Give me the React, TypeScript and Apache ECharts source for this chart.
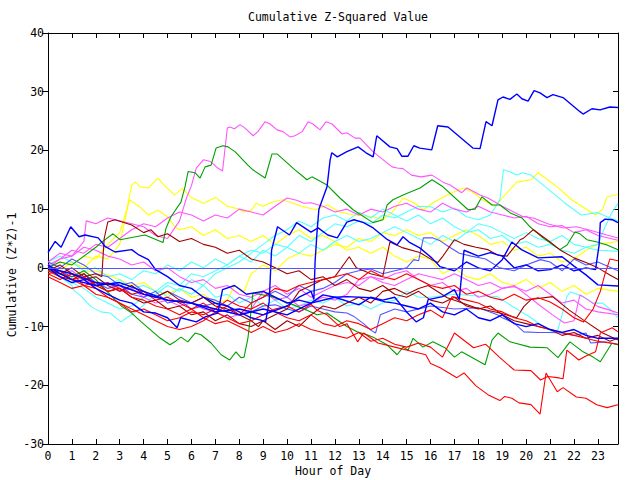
import React, { useEffect, useRef } from "react";
import * as echarts from "echarts";

// ---- data: [hour, cumulative value] ----
const hourTicks = [0, 1, 2, 3, 4, 5, 6, 7, 8, 9, 10, 11, 12, 13, 14, 15, 16, 17, 18, 19, 20, 21, 22, 23];
const yTicks = [-30, -20, -10, 0, 10, 20, 30, 40];

const blueTop = [[0,0],[1,-1],[2,-2.5],[3,-3],[4,-4.5],[5,-5.5],[6,-6],[7,-7.5],[8,-7],[9,-8],[10,-6.5],[10.5,-5],[11,-4],[11.12,-5.4],[11.17,1],[11.25,6],[11.33,10],[11.67,13.8],[11.8,18.4],[11.87,19.6],[12.1,18.9],[12.5,19.8],[12.97,20.6],[13.3,19.6],[13.6,18.9],[13.75,22.5],[14.3,20.6],[14.6,20.3],[14.8,19],[15.05,19],[15.3,20.8],[15.55,20.4],[16.05,20.1],[16.3,24.2],[16.73,24],[17.77,20.4],[18.07,20.3],[18.32,24.9],[18.57,24.2],[18.82,28.6],[19.03,29.1],[19.32,28.7],[19.61,29.6],[19.82,28.8],[20.08,28.4],[20.33,30.2],[20.58,29.8],[20.87,29],[21.12,29.5],[21.54,29],[22.25,26.6],[22.38,26.2],[22.75,27.1],[23.09,26.9],[23.5,27.4],[23.84,27.3]];
const blueEarly = [[0,2.6],[0.3,4.5],[0.55,3.5],[0.95,7],[1.3,5.3],[1.55,5.6],[2.1,5.1],[2.4,3.6],[2.8,2.7],[3.5,3.1],[3.8,2.2],[4.2,1.4],[4.5,-0.3],[5,-1.5],[5.5,-3],[6,-3.5],[6.5,-5],[7,-6],[7.5,-6.5],[8,-7.5],[8.5,-8.5],[8.9,-8.9],[9.1,-9.2],[9.25,-5.8],[9.35,3],[9.6,7],[10.1,5.6],[10.4,7.7],[11,6.1],[11.3,6.8],[11.7,5.6],[12.1,5.1],[12.5,7.8],[12.8,8.2],[13.2,7.7],[13.6,6.8],[14.2,4.8],[14.6,3.9],[14.85,5.3],[15.1,4.4],[15.55,3.4],[16.05,1.7],[16.4,0.2],[17,-0.5],[17.5,1],[18,0],[18.5,-0.5],[19,1.4],[19.4,4.4],[19.8,3.1],[20.5,1.7],[21.5,1.9],[22,0.3],[22.5,-1.2],[23,-2.9],[23.84,-3.1]];
const blueLate = [[0,0.5],[0.5,-1],[1,-2],[2,-3],[3,-2.5],[4,-4],[5,-5.5],[6,-6],[7,-7],[8,-8],[9,-7],[10,-8],[11,-6],[12,-5],[13,-6.3],[13.5,-5],[14,-5.5],[14.5,-5],[15,-7.5],[15.4,-9.2],[15.7,-8.5],[15.9,-5.4],[16.5,-4.9],[17,-3.7],[17.2,-5.4],[17.4,3],[18,2],[18.5,2.6],[19,2],[19.5,0],[20,0.5],[20.5,-0.5],[21,-0.3],[21.5,0.5],[22,-0.5],[22.5,0],[22.9,-0.3],[23.05,3.9],[23.1,7.7],[23.3,8.3],[23.6,8.2],[23.84,7.7]];
const blueLow = [[0,0],[0.5,-1.5],[1,-2.5],[1.5,-2],[2,-3.5],[2.5,-4.5],[3,-5.5],[3.5,-6],[4,-7.5],[4.5,-7.7],[5,-8.5],[5.4,-10.2],[5.55,-8.5],[6.2,-9.2],[6.6,-8.3],[7.1,-7.7],[7.3,-3.7],[7.8,-3],[8.3,-4.5],[9,-4],[9.5,-5],[10,-6],[10.5,-5.5],[11,-6],[11.5,-4.6],[12,-5],[12.5,-4.9],[13.5,-5.1],[14.1,-5.8],[14.5,-6],[15,-6.5],[15.5,-7],[16,-6],[16.5,-7.5],[17,-8],[17.5,-7],[18,-8.5],[18.5,-9],[19,-8],[19.5,-9.5],[20,-10],[20.5,-9.5],[21,-10.5],[21.5,-11],[22,-10.5],[22.5,-11.5],[23,-12],[23.84,-12]];
const lightBlueA = [[0,0.5],[0.5,-0.5],[1,-1.5],[1.5,-1],[2,-2.5],[2.5,-3.5],[3,-3],[3.5,-4.5],[4,-5],[4.5,-4],[5,-6],[5.5,-5.5],[6,-7],[6.5,-6.5],[7,-6],[7.5,-7.5],[8,-8],[8.5,-7.5],[9,-6.5],[9.5,-6.3],[10,-7],[10.5,-7.5],[11,-6.5],[11.5,-7],[12,-7.5],[12.5,-7.7],[12.8,-8.3],[13.2,-9.5],[13.5,-10.6],[13.7,-11.1],[13.9,-8],[14.5,-7],[15,-7.5],[16,-6.5],[17,-7],[18,-6.8],[18.8,-8],[19,-8.5],[19.5,-9.4],[19.9,-10.9],[20.5,-11],[21,-11],[21.5,-11.1],[22,-11.5],[22.5,-11.1],[22.7,-12.8],[23.3,-12.6],[23.84,-13.1]];
const lightBlueB = [[0,1],[0.5,0],[1,1.5],[1.5,0.5],[2,-1],[2.5,-1.5],[3,-3],[3.5,-2.5],[4,-4],[4.5,-5],[5,-4],[5.5,-5],[6,-6],[6.5,-5],[7,-5.5],[7.5,-6.5],[8,-5],[8.5,-6],[9,-5],[9.5,-4],[10,-5],[10.5,-3],[11,-4],[11.5,-3.5],[12,-2.5],[12.5,-1],[13,-0.5],[13.5,-0.2],[14,-1],[14.5,-0.5],[15,0],[15.3,1.4],[15.5,1.2],[15.7,5.1],[16.1,5.1],[16.4,4.6],[16.8,3.5],[17.2,2.5],[17.7,2],[18.3,1.5],[18.9,0],[19.5,-0.5],[20,0.5],[20.6,1.4],[21,1],[21.5,-0.5],[22,1.5],[22.5,0.5],[23,1],[23.84,-0.5]];
const redBottom = [[0,-0.5],[0.5,-1.5],[1,-2],[1.5,-3],[2,-3.5],[2.5,-5],[3,-6],[3.5,-7],[4,-8],[4.5,-9],[5,-10],[5.5,-10.5],[6,-10],[6.5,-9],[7,-7.5],[7.5,-8.5],[8,-9.5],[8.5,-9],[9,-8],[9.5,-7],[10,-6.5],[10.5,-7.5],[11,-6.2],[11.25,-7.2],[11.67,-8],[12.2,-10],[12.5,-9.5],[12.95,-12.6],[13.2,-11.1],[13.8,-12.8],[14.5,-13.5],[15.2,-14.2],[15.8,-14.8],[16,-16.3],[16.4,-17],[17.1,-18.7],[17.4,-17.9],[17.9,-20.1],[18.4,-21.6],[18.9,-22.6],[19.1,-21.9],[19.4,-22.2],[19.7,-23],[20.2,-23.3],[20.58,-24.9],[20.83,-17.9],[21.3,-21.1],[21.54,-20.4],[22.1,-22],[22.5,-22.2],[22.95,-23.3],[23.38,-23.8],[23.84,-23.3]];
const redMid = [[0,-1],[0.5,-2],[1,-1],[1.5,-3],[2,-2.5],[2.5,-4],[3,-3.5],[3.5,-5],[4,-5.5],[4.5,-6.5],[5,-7],[5.5,-8],[6,-7],[6.5,-8.5],[7,-9.5],[7.5,-9],[8,-10],[8.5,-11],[9,-10],[9.5,-11],[10,-10.5],[10.5,-9.5],[11,-10.5],[11.5,-11],[12,-11.5],[12.5,-12],[13,-11],[13.5,-12.5],[14,-12],[14.5,-13],[15,-13.5],[15.5,-12.8],[16,-13.5],[16.5,-15.2],[17,-11.1],[17.8,-13.6],[18.3,-13],[18.9,-15.3],[19.5,-17.4],[20.2,-17.5],[20.6,-19.1],[20.9,-18.5],[21.3,-18.7],[21.54,-18.9],[21.7,-14],[22.2,-15.7],[22.5,-15],[22.9,-14.3],[23.1,-11.1],[23.6,-10.2],[23.84,-10.9]];
const redUp = [[0,-1],[0.5,-0.5],[1,-2],[1.5,-1.5],[2,-3],[2.5,-2.5],[3,-3.5],[3.5,-4.5],[4,-4],[4.5,-5.5],[5,-5],[5.5,-6],[6,-7],[6.5,-6],[7,-7.5],[7.5,-6.5],[8,-8],[8.5,-6],[9,-5],[9.5,-3.5],[10,-4],[10.5,-3],[11,-2.5],[11.5,-2],[12,-1.5],[12.5,-1],[13,-2],[13.5,-0.5],[14,-1.5],[14.5,-2],[15,-1],[15.5,-2],[16,-3],[16.5,-3.5],[17,-3],[17.5,-4.5],[18,-4],[18.5,-5],[19,-5.5],[19.5,-4.5],[20,-5.5],[20.5,-5.1],[21,-5.8],[21.5,-7],[22,-8.5],[22.4,-9.2],[22.8,-7],[23.1,-4],[23.3,-1],[23.5,1.5],[23.84,1.2]];
const redLow = [[0,-1.5],[0.5,-2.5],[1,-3.5],[1.5,-3],[2,-4.5],[2.5,-5],[3,-6],[3.5,-7.5],[4,-7],[4.5,-8],[5,-9],[5.5,-8.5],[6,-7.5],[6.5,-8],[7,-7],[7.5,-5.5],[8,-6.5],[8.5,-7],[9,-6],[9.5,-7.5],[10,-8.5],[10.5,-9],[11,-8],[11.5,-9.5],[12,-10],[12.5,-9],[13,-9.5],[13.5,-10.5],[14,-9.5],[14.5,-8.5],[15,-9],[15.5,-8],[16,-7.2],[16.5,-8.5],[16.9,-4.9],[17.5,-5.5],[18,-6],[18.5,-7],[19,-7.5],[19.5,-8.5],[20,-9],[20.5,-10],[21,-10.5],[21.5,-11],[22,-11.5],[22.5,-12],[23,-12.5],[23.84,-13]];
const darkRedHigh = [[0,0],[0.5,-1],[1,0],[1.5,-1.5],[2,-1],[2.25,-1.5],[2.35,5],[2.5,7.8],[2.8,8.2],[3.1,7.8],[3.5,7.3],[4,6],[4.3,6.5],[4.6,5.3],[5,5.8],[5.5,4.5],[6,5],[6.5,4],[7,3.5],[7.5,2.5],[8,3],[8.5,1.5],[9,1],[9.5,0],[10,-1],[10.5,-0.5],[11,-2],[11.5,-1.5],[12,-3],[12.5,-2],[13,-3.5],[13.5,-4],[14,-3],[14.5,-4.5],[15,-5],[15.5,-4],[16,-5.5],[16.5,-6],[17,-5],[17.5,-6.5],[18,-7],[18.5,-6.5],[19,-8],[19.5,-9],[20,-9.5],[20.5,-10],[21,-10.5],[21.5,-11.5],[22,-11],[22.5,-12],[23,-11.5],[23.5,-12.5],[23.84,-12]];
const darkRedMid = [[0,-0.5],[0.5,0.5],[1,-1],[1.5,-2],[2,-1.5],[2.5,-3],[3,-4],[3.5,-3],[4,-4.5],[4.5,-5],[5,-4],[5.5,-5.5],[6,-6],[6.5,-5],[7,-6.5],[7.5,-7],[8,-8],[8.5,-9],[8.8,-10],[9,-9],[9.5,-8],[10,-7],[10.5,-4],[11,-3],[11.5,-2],[12,-1.5],[12.6,1.9],[12.9,0],[13.5,-1],[14,-1.5],[14.3,4.4],[14.85,3.4],[15.55,2.6],[16.05,1.4],[16.3,0.9],[16.5,1.9],[17,4.8],[17.4,4],[17.9,3.5],[18.4,3.1],[18.8,2.2],[19.2,2],[19.75,4.8],[19.9,5.1],[20.3,6.5],[20.6,5.6],[21,4.4],[21.4,3.1],[22,1.7],[22.5,0.9],[23,0],[23.5,-1.2],[23.84,-2]];
const darkRedLow = [[0,0],[0.5,-1],[1,-2],[1.5,-1],[2,-3],[2.5,-4],[3,-3.5],[3.5,-5],[4,-6],[4.5,-5.5],[5,-7],[5.5,-6.5],[6,-8],[6.5,-7.5],[7,-9],[7.5,-8],[8,-9.5],[8.5,-10],[9,-9],[9.5,-10.5],[10,-9],[10.5,-10],[11,-8],[11.5,-6.5],[12,-7],[12.5,-6],[13,-5],[13.5,-6],[14,-4],[14.5,-3.5],[15,-4.5],[15.5,-3.5],[15.9,-3],[16.7,-5.1],[17.9,-6.8],[18.9,-7.7],[19.6,-8.5],[19.9,-6.6],[20.2,-5.4],[21.1,-4.9],[21.8,-7.2],[22.4,-8.9],[23.2,-11.1],[23.84,-12.3]];
const yellowHigh = [[0,0],[0.5,1],[1,0.5],[1.5,2],[2,1.5],[2.5,4],[3,6],[3.3,10],[3.5,14.1],[3.65,14.6],[3.85,13.8],[4.2,13.6],[4.6,15.3],[4.85,14.1],[5.3,12.4],[5.6,13.5],[6,12],[6.5,11],[7,12],[7.5,10.5],[8,10],[8.2,9.5],[8.5,9.8],[8.7,11],[9,10.5],[9.3,11.1],[9.8,11.6],[10.2,11.1],[10.6,10.5],[11.2,9.9],[11.7,10.7],[12.2,9.5],[12.8,9],[13.6,8.7],[14,8.2],[14.4,9.5],[14.85,11.9],[15.3,11.1],[15.7,9.9],[16.1,11.1],[16.5,12],[17,13],[17.4,13.6],[17.8,12.8],[18.2,11.5],[18.7,10.5],[19.6,14.6],[20.2,15],[20.5,16.2],[21.3,13.8],[21.9,11.6],[22.9,9],[23.2,10],[23.38,12.1],[23.84,12.5]];
const yellowMid = [[0,0.5],[0.5,-0.5],[1,1],[1.5,0],[2,2],[2.5,1.5],[3,4],[3.4,11.6],[3.8,10.5],[4.2,9],[4.6,9.8],[5,8.7],[5.3,7],[5.5,6.5],[6,7],[6.5,5.5],[7,6.5],[7.5,5],[8,5.5],[8.5,4.5],[9,5.5],[9.5,4],[10,5.5],[10.5,6.5],[11,5],[11.5,5.5],[12,4.5],[12.5,3],[13,3.5],[13.5,2.5],[14,3.5],[14.5,2],[15,1],[15.5,2],[16,1.5],[16.5,-1],[17,0],[17.5,-1.5],[18,-2],[18.5,-1],[19,-2.5],[19.5,-3],[20,-2],[20.5,-3.5],[21,-2.5],[21.5,-4],[22,-3],[22.5,-4.5],[23,-3.5],[23.84,-4]];
const yellowLow = [[0,0],[1,-1],[2,-0.5],[3,-2],[3.5,-3],[4,-2.5],[4.5,-4],[5,-4.5],[5.5,-3.5],[6,-5],[6.5,-4.5],[7,-6],[7.5,-5.5],[7.8,-3],[8.2,-4],[8.5,-1],[9,0.5],[9.5,-0.5],[10,1.5],[10.5,2.5],[11,2],[11.5,3],[12,4],[12.5,3.5],[13,5],[13.5,4.5],[14,6],[14.5,5.5],[15,6.5],[15.5,5.5],[16,6],[16.5,4.5],[17,5.5],[17.5,6.5],[18,5.5],[18.5,4],[19,4.5],[19.5,3],[20,3.5],[20.5,2],[21,2.5],[21.5,1],[22,1.5],[22.5,3],[23,4],[23.84,4.5]];
const cyanHigh = [[0,0],[0.5,-1],[1,-0.5],[1.5,-2],[2,-1.5],[2.5,-3],[3,-2],[3.5,-3.5],[4,-3],[4.5,-4],[5,-2.5],[5.5,-3],[6,-1],[6.5,-1.5],[7,-0.5],[7.5,0.5],[8,2],[8.5,3],[9,2.5],[9.5,4],[10,3.5],[10.5,5.5],[11,4.5],[11.5,6],[12,7.5],[12.5,7],[13,8],[13.5,7.5],[14,9],[14.5,8.5],[15,9.5],[15.5,10.5],[16,10.4],[16.5,9.5],[17,10.2],[17.5,8.7],[18,8.2],[18.5,9],[18.9,11.6],[19.05,16.7],[19.3,16.4],[19.6,15.8],[19.85,16.2],[20.2,15.8],[20.8,13.8],[21.6,11.1],[22.3,9],[23,9.4],[23.5,8.5],[23.84,8]];
const cyanRise = [[0,-0.5],[0.5,-1.5],[1,-2.5],[1.5,-3.5],[2,-5],[2.5,-6],[3,-7],[3.5,-6.5],[4,-5],[4.5,-4.5],[5,-3],[5.5,-4],[6,-2],[6.5,-3],[7,-1],[7.5,0],[8,1],[8.5,2.5],[9,4],[9.5,5.5],[10,6.5],[10.5,8],[11,7],[11.5,8.5],[12,9],[12.5,8],[13,9.5],[13.5,8.5],[14,10],[14.5,9],[15,8],[15.5,9],[16,7.5],[16.5,8.5],[17,7],[17.5,6],[18,6.5],[18.5,5],[19,5.5],[19.5,4],[20,4.5],[20.5,3.5],[21,4],[21.5,3],[22,2.5],[22.5,3.5],[23,4],[23.3,7],[23.6,9.5],[23.84,11]];
const cyanLow = [[0,-0.5],[0.5,-1.5],[1,-3],[1.05,-3.7],[1.4,-4.9],[1.8,-6.6],[2.2,-7.5],[2.6,-7.7],[3.05,-9.2],[3.3,-8.5],[3.6,-7.7],[4.1,-6],[4.4,-4.8],[4.7,-4],[5,-5],[5.5,-3.5],[6,-4.5],[6.5,-3],[7,-5],[7.5,-4.5],[8,-6],[8.5,-5],[9,-6.5],[9.5,-5.5],[10,-7],[10.5,-6.5],[11,-5.5],[11.5,-6],[12,-5],[12.5,-6.5],[13,-6],[13.5,-7],[14,-6],[14.5,-5.5],[15,-4],[15.5,-5],[16,-5],[17,-4.5],[18,-4.8],[18.8,-4.9],[19.4,-6.5],[19.8,-7.5],[20.2,-8.5],[20.6,-9.7],[21.1,-10.9],[21.3,-10.9],[21.5,-8],[21.7,-4.9],[21.85,-4.1],[22.4,-4.9],[22.8,-6],[23.2,-6],[23.5,-7],[23.84,-8.5]];
const cyanMid = [[0,1],[0.5,2],[1,1],[1.5,-0.5],[2,0],[2.5,-1.5],[3,-1],[3.5,-2],[4,-0.5],[4.5,-1],[5,0.5],[5.5,-0.5],[6,1],[6.5,0],[7,1.5],[7.5,0.5],[8,2],[8.5,1],[9,3],[9.5,2],[10,3.5],[10.5,2.5],[11,4],[11.5,3],[12,4.5],[12.5,5.5],[13,4.5],[13.5,5],[14,6],[14.5,7],[15,6],[15.5,5],[16,4],[16.5,5.5],[17,4.5],[17.5,6],[18,7.5],[18.5,7],[19,6],[19.5,5],[20,6],[20.5,5],[21,4.5],[21.5,5.5],[22,4],[22.5,3.5],[23,3],[23.84,2.8]];
const magentaTop = [[0,0],[0.5,1.5],[1,2],[1.5,4.5],[1.6,8],[2,7.5],[2.5,8.5],[3,8],[3.5,7.5],[4,7],[4.5,5.5],[5,5],[5.5,8],[5.8,12],[6,14],[6.2,17],[6.5,18.4],[6.8,18.1],[7.1,17],[7.3,16.5],[7.5,23.8],[7.6,24],[7.8,23.7],[8.03,24.4],[8.24,23.8],[8.58,22.5],[8.78,23.2],[9.08,24.9],[9.29,24.5],[9.58,23.5],[9.83,23.2],[10.12,22.3],[10.33,22.5],[10.63,23.2],[10.88,24.9],[11.08,24.5],[11.38,23.5],[11.63,24.9],[11.88,24.5],[12.3,22.8],[12.5,23],[12.84,22.1],[13.05,22.1],[13.59,19.8],[14.39,17.2],[14.6,17],[14.85,16.9],[15.2,15.8],[15.6,15.5],[16.06,15.8],[16.52,14.6],[16.82,14.1],[17.3,12.8],[17.52,13.6],[18.07,12.4],[18.4,11.9],[19,10.5],[19.87,8.7],[20.3,8.5],[20.9,7.5],[21.54,6.8],[22.1,7],[22.6,6.5],[23.38,5.6],[23.84,5.1]];
const magentaMid = [[0,0.5],[0.5,1.5],[1,3],[1.5,2.5],[2,4],[2.5,3.5],[3,5],[3.5,6.5],[4,7.5],[4.5,7],[5,8.5],[5.5,9.5],[6,9],[6.5,8],[7,9],[7.5,8.5],[8,10],[8.5,9.5],[9,9],[9.5,10.5],[10,11.9],[10.4,11.5],[10.7,11],[11,11.1],[11.5,10.5],[12,9.5],[12.5,10],[13,9],[13.5,10],[14,9.5],[14.5,10.5],[15,11],[15.5,10],[16,9.5],[16.5,11],[17,10],[17.5,9.5],[18,10.5],[18.5,9.5],[19,9],[19.5,8.5],[20,8.8],[20.5,7.5],[21,7],[21.5,7.2],[22,6],[22.5,6.5],[23,5.5],[23.84,4.7]];
const magentaLow = [[0,0],[0.5,-1],[1,-0.5],[1.5,-2],[2,-3],[2.5,-2.5],[3,-4],[3.5,-3.5],[4,-5],[4.5,-6],[5,-5.5],[5.5,-6.5],[6,-6],[6.5,-7],[7,-7.5],[7.5,-8.5],[8,-8],[8.5,-7],[9,-4],[9.5,-3],[10,-4.5],[10.5,-3.5],[11,-5],[11.5,-4],[12,-3],[12.5,-2.5],[13,-3],[13.5,-1.5],[14,-2],[14.5,-1],[15,-0.5],[15.5,-2],[16,-3],[16.5,-2.5],[17,-4],[17.5,-3.5],[18,-5],[18.5,-4.5],[19,-3.5],[19.5,-3.2],[20,-4],[20.5,-3],[21,-4.5],[21.5,-6],[22,-5.5],[22.5,-7],[23,-7.5],[23.84,-8]];
const magentaJump = [[0,1],[0.5,2.5],[1,2],[1.5,3.5],[2,3],[2.5,2],[3,1.5],[3.5,0.5],[4,1],[4.5,-0.5],[5,0],[5.5,-1.5],[6,-2.5],[6.5,-2],[7,-3.5],[7.5,-3],[8,-4.5],[8.5,-5],[9,-4],[9.5,-5.5],[10,-5],[10.5,-6.5],[11,-6],[11.5,-5],[12,-5.5],[12.5,-4.5],[13,-2],[13.5,-1.5],[14,-2.5],[14.5,-3],[15,-2],[15.5,-1],[16,-1.5],[16.5,-2],[17,-1],[17.5,-2],[18,-3],[18.5,-2.5],[19,-3.5],[19.5,-3],[20.1,-4.9],[20.6,-6.5],[21.1,-8],[21.6,-9.4],[22,-9],[22.25,-4.6],[22.6,-5.5],[23,-6.6],[23.5,-7.2],[23.84,-7.7]];
const greenTop = [[0,0],[0.5,1],[1,0.5],[1.5,2],[2,3.5],[2.22,4.3],[2.72,5.8],[3.01,4.8],[4.06,5.6],[4.81,4.3],[4.94,6.8],[5.14,8.7],[5.56,11.2],[5.73,13.8],[5.86,16.4],[6.15,16.2],[6.36,15.3],[6.57,17.2],[6.82,17.5],[7.03,20.4],[7.32,20.8],[7.53,20.6],[7.82,19.8],[8.36,17.5],[8.57,16.7],[9.08,15.3],[9.37,19.4],[9.58,19.4],[10.33,16.7],[10.83,15],[11.04,15.5],[11.67,14.1],[12.21,11.9],[12.76,9.9],[13.59,7.7],[14.01,8.2],[14.18,10.7],[14.43,11.6],[14.85,12.4],[15.56,13.6],[16.06,15],[16.52,13.8],[17.57,9.9],[17.86,10],[18.15,12.1],[18.57,10.7],[18.9,10.7],[19.32,9.4],[19.82,8.5],[20.16,7],[20.7,5.1],[21.41,3.1],[21.71,3.9],[22.04,6.1],[22.25,5.8],[22.54,4.8],[22.96,4.4],[23.38,3.9],[23.84,3.1]];
const greenLow = [[0,-0.5],[0.5,-1],[1,-1.5],[1.5,-0.5],[2,-2],[2.4,-3.7],[2.8,-5.4],[3.1,-6.6],[3.5,-7.7],[3.9,-9.2],[4.3,-10.6],[4.7,-12],[5.1,-13.1],[5.3,-12.6],[5.56,-11.8],[5.85,-12.6],[6.15,-11.1],[6.4,-11.4],[6.82,-12.8],[7.24,-14.8],[7.6,-15.7],[7.86,-14.3],[8.07,-15.3],[8.2,-15.2],[8.36,-12],[8.45,-8.9],[8.57,-4.3],[9.37,-4.9],[10.83,-7.2],[11.25,-8],[11.67,-7.7],[12.5,-10],[12.93,-10.9],[13.34,-11.4],[13.6,-11.8],[14.18,-13.1],[14.6,-14.8],[14.85,-13.5],[15.06,-14],[15.27,-12],[15.68,-13.5],[16.1,-12.6],[16.6,-13.6],[17,-15.2],[17.3,-14.3],[18.28,-16.5],[18.57,-12.3],[18.82,-11.1],[19.32,-12.6],[20.16,-13.5],[20.87,-13.6],[21.33,-15.3],[21.83,-12.6],[22.38,-14.3],[22.8,-15.2],[23.1,-16],[23.59,-12.8],[23.84,-13.1]];

const BLUE = "#0000ff";
const RED = "#ff0000";
const GREEN = "#00a000";
const MAGENTA = "#ff55ff";
const CYAN = "#55ffff";
const YELLOW = "#ffff00";
const DARKRED = "#a00000";
const LIGHTBLUE = "#5555ff";

const seriesList: [number[][], string][] = [
  [yellowHigh, YELLOW],
  [yellowMid, YELLOW],
  [yellowLow, YELLOW],
  [cyanHigh, CYAN],
  [cyanRise, CYAN],
  [cyanLow, CYAN],
  [cyanMid, CYAN],
  [magentaTop, MAGENTA],
  [magentaMid, MAGENTA],
  [magentaLow, MAGENTA],
  [magentaJump, MAGENTA],
  [lightBlueA, LIGHTBLUE],
  [lightBlueB, LIGHTBLUE],
  [greenTop, GREEN],
  [greenLow, GREEN],
  [darkRedHigh, DARKRED],
  [darkRedMid, DARKRED],
  [darkRedLow, DARKRED],
  [redBottom, RED],
  [redMid, RED],
  [redUp, RED],
  [redLow, RED],
  [blueEarly, BLUE],
  [blueLate, BLUE],
  [blueLow, BLUE],
  [blueTop, BLUE],
];

const FONT = "'DejaVu Sans Mono', monospace";

export default function App() {
  const ref = useRef<HTMLDivElement>(null);
  useEffect(() => {
    if (!ref.current) return;
    const chart = echarts.init(ref.current, undefined, { renderer: "svg" });
    const axisLine = { show: true, lineStyle: { color: "#000", width: 1 } };
    const series: any[] = seriesList.map(([data, color], i) => ({
      type: "line",
      data,
      showSymbol: false,
      symbol: "none",
      lineStyle: { color, width: color === BLUE ? 1.4 : 1.1 },
      silent: true,
      z: 2 + i * 0.01,
    }));
    series.push({
      type: "line",
      data: [],
      markLine: {
        silent: true,
        symbol: "none",
        label: { show: false },
        lineStyle: { color: LIGHTBLUE, width: 1, type: "solid" },
        data: [{ yAxis: 0 }],
      },
      z: 5,
    });
    chart.setOption({
      animation: false,
      backgroundColor: "#ffffff",
      title: {
        text: "Cumulative Z-Squared Value",
        left: 333,
        textAlign: "center",
        top: 6,
        textStyle: { fontFamily: FONT, fontSize: 11.5, fontWeight: "normal", color: "#000" },
      },
      grid: { left: 48, right: 22, top: 33, bottom: 36, containLabel: false },
      xAxis: [
        {
          type: "value",
          min: 0,
          max: 23.84,
          interval: 1,
          axisLine: { ...axisLine, onZero: false },
          axisTick: { show: true, inside: true, length: 5, lineStyle: { color: "#000" } },
          axisLabel: {
            fontFamily: FONT,
            fontSize: 11.5,
            color: "#000",
            margin: 6,
            formatter: (v: number) => (hourTicks.includes(v) ? String(v) : ""),
          },
          splitLine: { show: false },
        },
        {
          type: "value",
          position: "top",
          min: 0,
          max: 23.84,
          interval: 1,
          axisLine: { ...axisLine, onZero: false },
          axisTick: { show: true, inside: true, length: 5, lineStyle: { color: "#000" } },
          axisLabel: { show: false },
          splitLine: { show: false },
        },
      ],
      yAxis: [
        {
          type: "value",
          min: yTicks[0],
          max: yTicks[yTicks.length - 1],
          interval: 10,
          axisLine: { ...axisLine, onZero: false },
          axisTick: { show: true, inside: false, length: 6, lineStyle: { color: "#000" } },
          axisLabel: { fontFamily: FONT, fontSize: 11.5, color: "#000", margin: 4 },
          splitLine: { show: false },
        },
        {
          type: "value",
          position: "right",
          min: yTicks[0],
          max: yTicks[yTicks.length - 1],
          interval: 10,
          axisLine: { ...axisLine, onZero: false },
          axisTick: { show: true, inside: true, length: 5, lineStyle: { color: "#000" } },
          axisLabel: { show: false },
          splitLine: { show: false },
        },
      ],
      graphic: [
        {
          type: "text",
          x: 333,
          y: 471,
          style: { text: "Hour of Day", fontFamily: FONT, fontSize: 11.5, fill: "#000", align: "center", verticalAlign: "middle" },
        },
        {
          type: "text",
          x: 12,
          y: 275,
          rotation: Math.PI / 2,
          style: { text: "Cumulative (Z*Z)-1", fontFamily: FONT, fontSize: 11.5, fill: "#000", align: "center", verticalAlign: "middle" },
        },
      ],
      series,
    });
    return () => chart.dispose();
  }, []);
  return <div ref={ref} style={{ width: 640, height: 480, position: "absolute", left: 0, top: 0 }} />;
}
